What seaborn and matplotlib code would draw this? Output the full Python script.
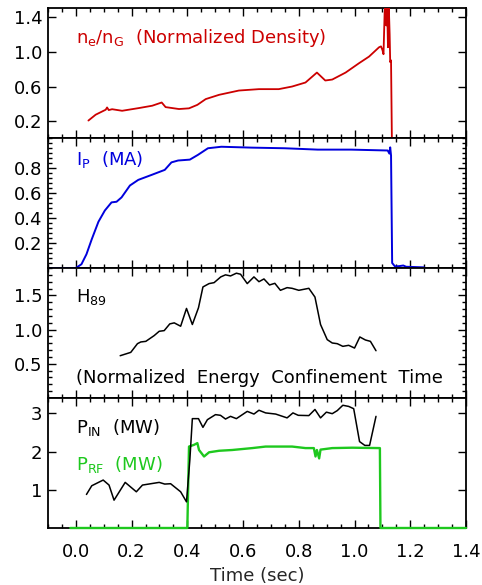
import numpy as np
import pandas as pd
import matplotlib
matplotlib.use("Agg")
import matplotlib.pyplot as plt
from matplotlib.ticker import MultipleLocator, FixedLocator, NullLocator
import seaborn as sns

# ---------------- data ----------------
ne_t = [0.045, 0.071, 0.107, 0.112, 0.118, 0.130, 0.166, 0.226, 0.274, 0.308,
        0.322, 0.370, 0.406, 0.436, 0.466, 0.514, 0.585, 0.657, 0.728, 0.776,
        0.824, 0.865, 0.895, 0.920, 0.968, 1.016, 1.052, 1.088, 1.095, 1.100,
        1.104, 1.108, 1.111, 1.114, 1.117, 1.120, 1.123, 1.126, 1.128, 1.131,
        1.134]
ne_v = [0.21, 0.277, 0.334, 0.36, 0.33, 0.34, 0.322, 0.353, 0.38, 0.417,
        0.364, 0.342, 0.35, 0.39, 0.456, 0.505, 0.554, 0.57, 0.57, 0.60,
        0.646, 0.76, 0.669, 0.68, 0.76, 0.867, 0.943, 1.05, 1.06, 1.02,
        0.97, 1.45, 1.52, 1.30, 1.52, 1.05, 1.52, 1.20, 0.88, 0.90,
        0.0]

ip_t = [-0.098, 0.0, 0.02, 0.038, 0.057, 0.081, 0.104, 0.128, 0.146, 0.164,
        0.194, 0.224, 0.272, 0.319, 0.343, 0.367, 0.409, 0.438, 0.474, 0.522,
        0.63, 0.749, 0.868, 0.988, 1.119, 1.125, 1.128, 1.131, 1.135, 1.145,
        1.16, 1.175, 1.185, 1.25]
ip_v = [0.0, 0.0, 0.03, 0.11, 0.23, 0.37, 0.46, 0.525, 0.53, 0.565,
        0.66, 0.705, 0.745, 0.785, 0.845, 0.86, 0.867, 0.905, 0.958, 0.97,
        0.963, 0.958, 0.947, 0.947, 0.94, 0.915, 0.965, 0.9, 0.04, 0.013,
        0.015, 0.02, 0.01, 0.005]

h_t = [0.159, 0.197, 0.221, 0.233, 0.251, 0.281, 0.299, 0.317, 0.337, 0.353,
       0.376, 0.397, 0.418, 0.44, 0.456, 0.478, 0.496, 0.52, 0.537, 0.555,
       0.576, 0.591, 0.615, 0.639, 0.657, 0.675, 0.695, 0.714, 0.734, 0.758,
       0.776, 0.8, 0.836, 0.858, 0.878, 0.902, 0.92, 0.938, 0.958, 0.979,
       1.0, 1.019, 1.039, 1.057, 1.077]
h_v = [0.618, 0.667, 0.794, 0.819, 0.828, 0.912, 0.975, 0.985, 1.083, 1.098,
       1.049, 1.309, 1.074, 1.319, 1.623, 1.672, 1.686, 1.77, 1.8, 1.784,
       1.824, 1.809, 1.672, 1.77, 1.70, 1.74, 1.652, 1.676, 1.574, 1.613,
       1.603, 1.574, 1.603, 1.475, 1.074, 0.853, 0.804, 0.794, 0.755, 0.77,
       0.73, 0.892, 0.848, 0.828, 0.691]

pin_t = [0.038, 0.057, 0.098, 0.119, 0.137, 0.177, 0.217, 0.239, 0.299, 0.319,
         0.34, 0.376, 0.397, 0.409, 0.418, 0.44, 0.456, 0.472, 0.501, 0.519,
         0.537, 0.555, 0.576, 0.615, 0.639, 0.657, 0.681, 0.717, 0.758, 0.779,
         0.798, 0.836, 0.858, 0.878, 0.899, 0.92, 0.938, 0.958, 0.979, 0.997,
         1.018, 1.037, 1.054, 1.077]
pin_v = [0.877, 1.105, 1.254, 1.123, 0.728, 1.193, 0.947, 1.123, 1.193, 1.149,
         1.158, 0.947, 0.684, 1.78, 2.86, 2.86, 2.632, 2.833, 2.965, 2.947,
         2.85, 2.92, 2.86, 3.05, 2.98, 3.08, 3.01, 2.98, 2.88, 3.01,
         2.947, 2.94, 3.10, 2.88, 3.03, 2.99, 3.07, 3.21, 3.18, 3.12,
         2.26, 2.16, 2.16, 2.92]

prf_t = [-0.02, 0.400, 0.406, 0.424, 0.436, 0.442, 0.46, 0.478, 0.514, 0.561,
         0.633, 0.681, 0.776, 0.824, 0.854, 0.86, 0.865, 0.873, 0.878, 0.92,
         0.991, 1.091, 1.093, 1.4]
prf_v = [0.0, 0.0, 2.13, 2.175, 2.22, 2.04, 1.87, 1.98, 2.02, 2.04,
         2.09, 2.13, 2.13, 2.09, 2.09, 1.87, 2.04, 1.82, 2.05, 2.09,
         2.10, 2.09, 0.0, 0.0]

x_ticks = [0.0, 0.2, 0.4, 0.6, 0.8, 1.0, 1.2, 1.4]
x_tick_labels = ["0.0", "0.2", "0.4", "0.6", "0.8", "1.0", "1.2", "1.4"]
ne_ticks = [0.2, 0.6, 1.0, 1.4]
ip_ticks = [0.2, 0.4, 0.6, 0.8]
h_ticks = [0.5, 1.0, 1.5]
p_ticks = [1, 2, 3]

RED = "#CC0000"
BLUE = "#0000DD"
GREEN = "#1EC81E"
BLACK = "#000000"

# ---------------- style ----------------
sns.set_style("white")
plt.rcParams["font.family"] = ["DejaVu Sans"]
plt.rcParams["mathtext.fontset"] = "dejavusans"
FS = 13

fig = plt.figure(figsize=(4.82, 5.85), dpi=100)
L, R = 48 / 482, 466 / 482
H = 130 / 585
tops = [8, 138, 268, 398]
axes = []
for tp in tops:
    bottom = 1 - (tp + 130) / 585
    axes.append(fig.add_axes([L, bottom, R - L, H]))

ax1, ax2, ax3, ax4 = axes

df_ne = pd.DataFrame({"t": ne_t, "v": ne_v})
df_ip = pd.DataFrame({"t": ip_t, "v": ip_v})
df_h = pd.DataFrame({"t": h_t, "v": h_v})
df_pin = pd.DataFrame({"t": pin_t, "v": pin_v})
df_prf = pd.DataFrame({"t": prf_t, "v": prf_v})

kw = dict(x="t", y="v", estimator=None, sort=False, legend=False, zorder=3)
sns.lineplot(data=df_ne, ax=ax1, color=RED, linewidth=1.3, **kw)
sns.lineplot(data=df_ip, ax=ax2, color=BLUE, linewidth=1.4, clip_on=False, **kw)
sns.lineplot(data=df_h, ax=ax3, color=BLACK, linewidth=1.1, **kw)
sns.lineplot(data=df_prf, ax=ax4, color=GREEN, linewidth=1.7, clip_on=False, **kw)
sns.lineplot(data=df_pin, ax=ax4, color=BLACK, linewidth=1.1, **kw)

ylims = [(0.01, 1.5), (0.0, 1.04), (0.0, 1.9), (0.0, 3.4)]
yticks = [ne_ticks, ip_ticks, h_ticks, p_ticks]
ylabels_fmt = ["{:.1f}", "{:.1f}", "{:.1f}", "{:d}"]
yminor = [None, 0.04, 0.1, None]

for i, ax in enumerate(axes):
    ax.set_xlim(-0.1, 1.4)
    ax.set_ylim(*ylims[i])
    ax.set_xlabel("")
    ax.set_ylabel("")
    ax.xaxis.set_major_locator(FixedLocator(x_ticks))
    ax.xaxis.set_minor_locator(MultipleLocator(0.05))
    ax.set_yticks(yticks[i])
    ax.set_yticklabels([ylabels_fmt[i].format(v) for v in yticks[i]])
    if yminor[i] is not None:
        ax.yaxis.set_minor_locator(MultipleLocator(yminor[i]))
    else:
        ax.yaxis.set_minor_locator(NullLocator())
    ax.tick_params(which="both", direction="in", top=True, right=True,
                   bottom=True, left=True, colors="black", width=1.0)
    ax.tick_params(which="major", length=6)
    ax.tick_params(which="minor", length=3)
    ax.tick_params(axis="y", labelsize=FS, pad=4)
    ax.tick_params(axis="x", labelsize=FS, pad=11)
    for s in ax.spines.values():
        s.set_color("black")
        s.set_linewidth(1.3)
        s.set_zorder(2.5)
    ax.set_facecolor("white")
    if i < 3:
        ax.set_xticklabels([])
    else:
        ax.set_xticklabels(x_tick_labels)

ax4.set_xlabel("Time (sec)", fontsize=FS, labelpad=4)

# ---------------- annotations ----------------
ax1.text(0.0, 1.10, r"n$_\mathregular{e}$/n$_\mathregular{G}$  (Normalized Density)",
         color=RED, fontsize=FS, ha="left", va="baseline")
ax2.text(0.0, 0.824, r"I$_\mathregular{P}$  (MA)", color=BLUE, fontsize=FS,
         ha="left", va="baseline")
ax3.text(0.0, 1.40, r"H$_\mathregular{89}$", color=BLACK, fontsize=FS,
         ha="left", va="baseline")
ax3.text(0.0, 0.22, "(Normalized  Energy  Confinement  Time", color=BLACK,
         fontsize=FS, ha="left", va="baseline")
ax4.text(0.0, 2.49, r"P$_\mathregular{IN}$  (MW)", color=BLACK, fontsize=FS,
         ha="left", va="baseline")
ax4.text(0.0, 1.52, r"P$_\mathregular{RF}$  (MW)", color=GREEN, fontsize=FS,
         ha="left", va="baseline")

fig.savefig("out.png", dpi=100, facecolor="white")
